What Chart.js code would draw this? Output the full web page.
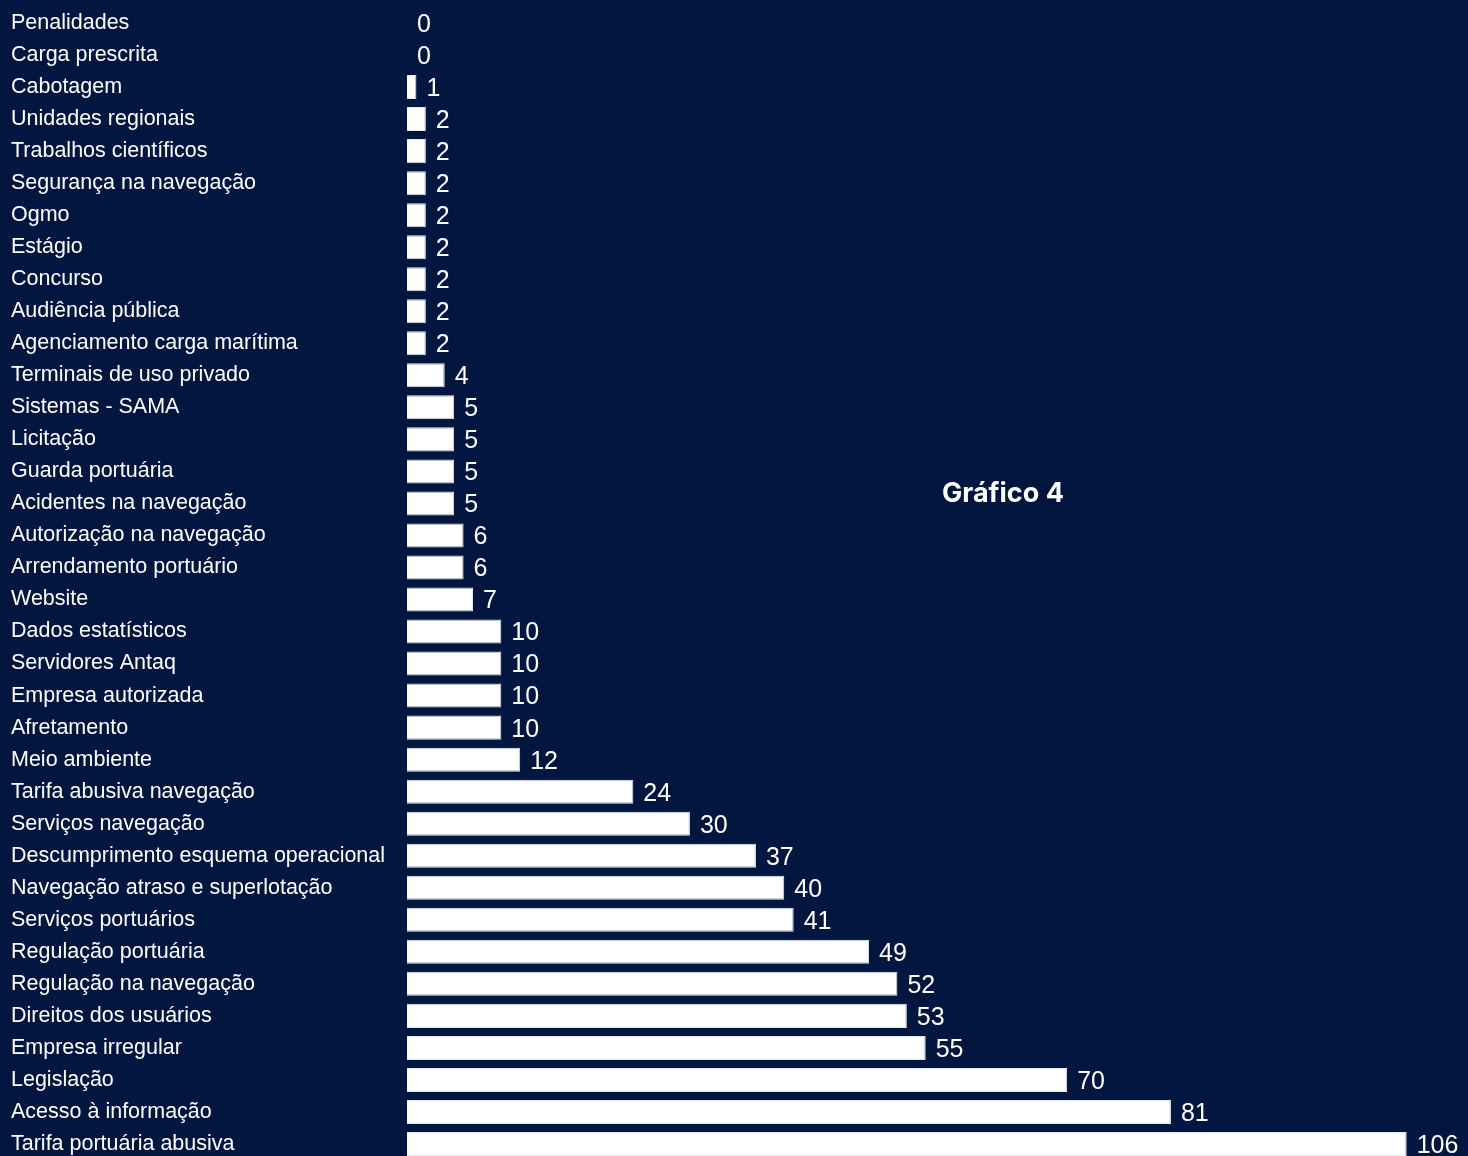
<!DOCTYPE html>
<html>
<head>
<meta charset="utf-8">
<script src="https://cdn.jsdelivr.net/npm/chart.js@4.4.1/dist/chart.umd.min.js"></script>
<style>
  html, body { margin:0; padding:0; background:#02163f; overflow:hidden; }
  #wrap { position:relative; width:1468px; height:1156px; overflow:hidden; }
  #title { position:absolute; left:903px; width:200px; top:476px; text-align:center;
           font-family:Inter, sans-serif; font-weight:700; font-size:27px; color:#fff; }
</style>
</head>
<body>
<div id="wrap">
  <canvas id="chart" width="1468" height="1162"></canvas>
  <div id="title">Gráfico 4</div>
</div>
<script>
const categories = [
  'Penalidades', 'Carga prescrita', 'Cabotagem', 'Unidades regionais', 'Trabalhos científicos',
  'Segurança na navegação', 'Ogmo', 'Estágio', 'Concurso', 'Audiência pública',
  'Agenciamento carga marítima', 'Terminais de uso privado', 'Sistemas - SAMA', 'Licitação',
  'Guarda portuária', 'Acidentes na navegação', 'Autorização na navegação', 'Arrendamento portuário',
  'Website', 'Dados estatísticos', 'Servidores Antaq', 'Empresa autorizada', 'Afretamento',
  'Meio ambiente', 'Tarifa abusiva navegação', 'Serviços navegação', 'Descumprimento esquema operacional',
  'Navegação atraso e superlotação', 'Serviços portuários', 'Regulação portuária', 'Regulação na navegação',
  'Direitos dos usuários', 'Empresa irregular', 'Legislação', 'Acesso à informação', 'Tarifa portuária abusiva'
];
const counts = [
  0, 0, 1, 2, 2,
  2, 2, 2, 2, 2,
  2, 4, 5, 5,
  5, 5, 6, 6,
  7, 10, 10, 10, 10,
  12, 24, 30, 37,
  40, 41, 49, 52,
  53, 55, 70, 81, 106
];

// valores no fim das barras
const valueLabels = {
  id: 'valueLabels',
  afterDatasetsDraw(chart) {
    const ctx = chart.ctx;
    const meta = chart.getDatasetMeta(0);
    ctx.save();
    ctx.fillStyle = '#ffffff';
    ctx.font = '25px "Liberation Sans", Arial, sans-serif';
    ctx.textAlign = 'left';
    ctx.textBaseline = 'middle';
    meta.data.forEach((bar, i) => {
      ctx.fillText(String(counts[i]), bar.x + 10, bar.y + 2);
    });
    ctx.restore();
  }
};

new Chart(document.getElementById('chart'), {
  type: 'bar',
  data: {
    labels: categories,
    datasets: [{
      data: counts,
      backgroundColor: '#ffffff',
      borderColor: '#e4e7ee',
      borderWidth: 1,
      barPercentage: 0.75,
      categoryPercentage: 1.0
    }]
  },
  options: {
    indexAxis: 'y',
    responsive: false,
    animation: false,
    layout: { padding: { top: 7, bottom: 2, left: 11, right: 0 } },
    plugins: { legend: { display: false }, tooltip: { enabled: false } },
    scales: {
      x: { display: false, min: 0, max: 112.5 },
      y: {
        grid: { display: false },
        border: { display: false },
        ticks: {
          color: '#ffffff',
          autoSkip: false,
          crossAlign: 'far',
          font: { family: '"Liberation Sans", Arial, sans-serif', size: 21.5 }
        },
        afterFit(scale) {
          scale.width = 396;
          scale.paddingTop = 0;
          scale.paddingBottom = 0;
        }
      }
    }
  },
  plugins: [valueLabels]
});
</script>
</body>
</html>
